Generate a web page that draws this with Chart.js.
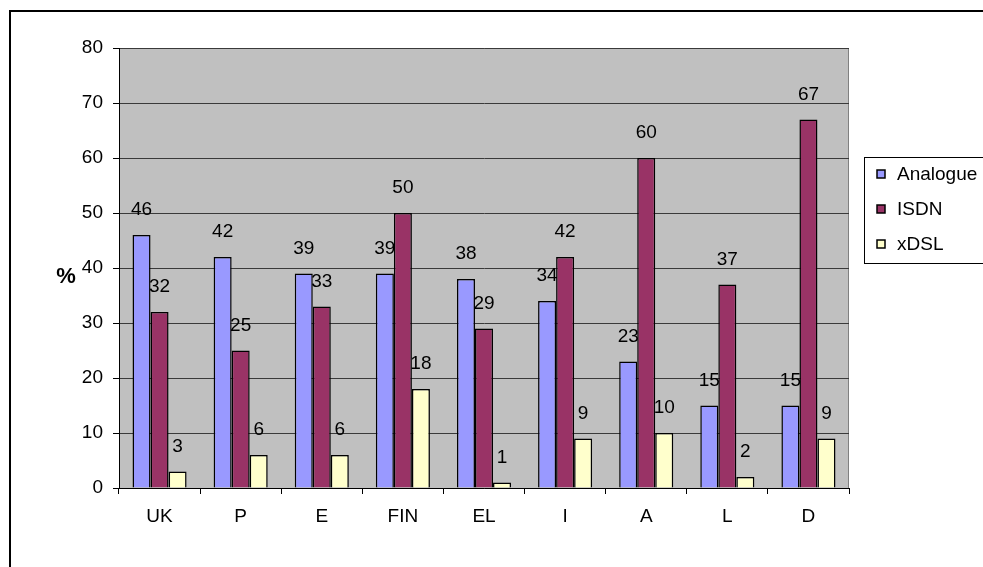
<!DOCTYPE html>
<html>
<head>
<meta charset="utf-8">
<script src="https://cdn.jsdelivr.net/npm/chart.js@4/dist/chart.umd.min.js"></script>
<style>
  html, body { margin: 0; padding: 0; background: #fff; }
  #wrap { width: 983px; height: 567px; position: relative; }
</style>
</head>
<body>
<div id="wrap"><canvas id="myChart" width="983" height="567"></canvas></div>
<script>
// data
var countries = ['UK', 'P', 'E', 'FIN', 'EL', 'I', 'A', 'L', 'D'];
var analogue = [46, 42, 39, 39, 38, 34, 23, 15, 15];
var isdn = [32, 25, 33, 50, 29, 42, 60, 37, 67];
var xdsl = [3, 6, 6, 18, 1, 9, 10, 2, 9];
var yTicks = [0, 10, 20, 30, 40, 50, 60, 70, 80];

var FONT = "'Liberation Sans', Arial, sans-serif";
var FSIZE = 19;

// frame, grey plot area, "%" label, legend
var excelLook = {
  id: 'excelLook',
  beforeDraw: function(chart) {
    var c = chart.ctx, a = chart.chartArea;
    c.save();
    c.fillStyle = '#fff';
    c.fillRect(0, 0, chart.width, chart.height);
    c.strokeStyle = '#000';
    c.lineWidth = 2;
    c.beginPath();
    c.moveTo(10, chart.height + 5);
    c.lineTo(10, 11);
    c.lineTo(chart.width + 5, 11);
    c.stroke();
    c.fillStyle = '#c0c0c0';
    c.fillRect(a.left, a.top, a.right - a.left, a.bottom - a.top);
    c.strokeStyle = '#808080';
    c.lineWidth = 1;
    c.beginPath();
    c.moveTo(a.left, a.top + 0.5);
    c.lineTo(a.right - 0.5, a.top + 0.5);
    c.lineTo(a.right - 0.5, a.bottom);
    c.stroke();
    c.restore();
  },
  afterDraw: function(chart) {
    var c = chart.ctx;
    c.save();
    c.fillStyle = '#000';
    c.font = 'bold 22px ' + FONT;
    c.textAlign = 'center';
    c.textBaseline = 'middle';
    c.fillText('%', 66, 277);

    // legend box
    c.strokeStyle = '#000';
    c.lineWidth = 1;
    c.strokeRect(864.5, 157.5, 140, 106);
    c.font = FSIZE + 'px ' + FONT;
    c.textAlign = 'left';
    chart.data.datasets.forEach(function(ds, i) {
      var y = 174 + i * 35;
      c.fillStyle = ds.backgroundColor;
      c.fillRect(877, y - 4, 8, 8);
      c.strokeStyle = '#000';
      c.lineWidth = 1.5;
      c.strokeRect(877, y - 4, 8, 8);
      c.fillStyle = '#000';
      c.fillText(ds.label, 897, y + 1);
    });
    c.restore();
  },
  afterDatasetsDraw: function(chart) {
    var c = chart.ctx;
    c.save();
    c.fillStyle = '#000';
    c.font = FSIZE + 'px ' + FONT;
    c.textAlign = 'center';
    c.textBaseline = 'middle';
    chart.data.datasets.forEach(function(ds, i) {
      chart.getDatasetMeta(i).data.forEach(function(bar, j) {
        c.fillText(ds.data[j], bar.x, bar.y - 25);
      });
    });
    c.restore();
  }
};

var ctx = document.getElementById('myChart').getContext('2d');

var chart = new Chart(ctx, {
  type: 'bar',
  data: {
    labels: countries,
    datasets: [{
      label: 'Analogue',
      backgroundColor: '#9999ff',
      borderColor: '#000',
      borderWidth: 1.5,
      data: analogue
    },
    {
      label: 'ISDN',
      backgroundColor: '#993366',
      borderColor: '#000',
      borderWidth: 1.5,
      data: isdn
    },
    {
      label: 'xDSL',
      backgroundColor: '#ffffcc',
      borderColor: '#000',
      borderWidth: 1.5,
      data: xdsl
    }]
  },
  options: {
    responsive: false,
    animation: false,
    events: [],
    categoryPercentage: 3 / 4.5,
    barPercentage: 1,
    layout: { padding: { left: 20, top: 48, right: 134, bottom: 20 } },
    plugins: {
      legend: { display: false },
      tooltip: { enabled: false }
    },
    scales: {
      x: {
        grid: { drawOnChartArea: false, tickLength: 6, tickColor: '#000', offset: true },
        border: { color: '#000', width: 1 },
        ticks: { color: '#000', padding: 11, font: { family: FONT, size: FSIZE } },
        afterFit: function(s) { s.height = 59; }
      },
      y: {
        min: 0,
        max: 80,
        afterBuildTicks: function(s) { s.ticks = yTicks.map(function(v) { return { value: v }; }); },
        grid: { color: '#3a3a3a', tickLength: 6, tickColor: '#000' },
        border: { color: '#000', width: 1 },
        ticks: { color: '#000', padding: 10, font: { family: FONT, size: FSIZE } },
        afterFit: function(s) { s.width = 99; }
      }
    }
  },
  plugins: [excelLook]
});
</script>
</body>
</html>
